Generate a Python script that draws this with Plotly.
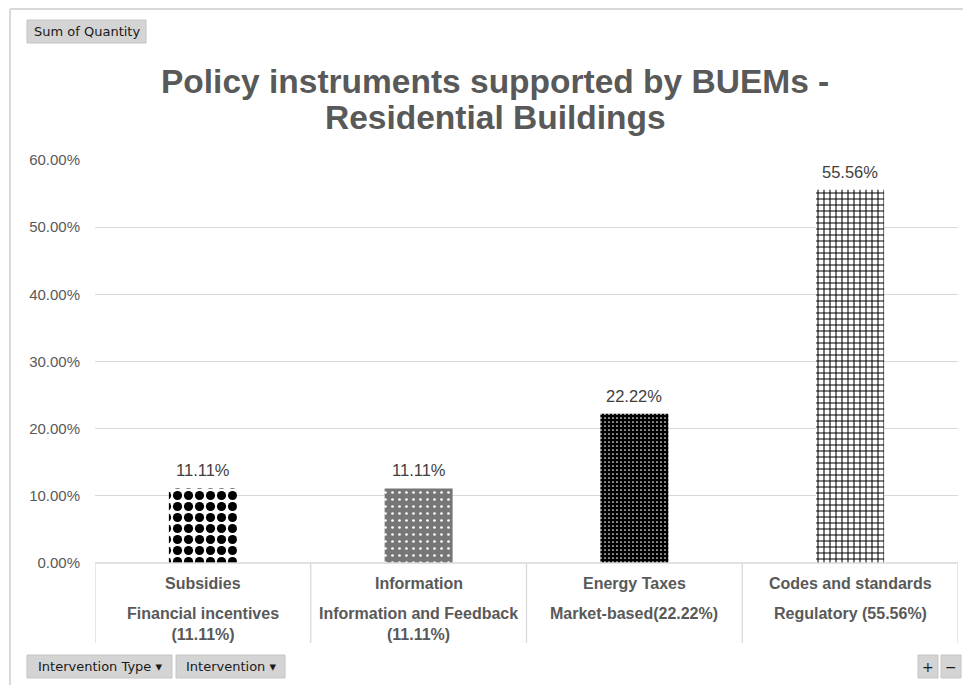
import plotly.graph_objects as go

# Chart data
categories = ["Subsidies", "Information", "Energy Taxes", "Codes and standards"]
sub_labels = ["Financial incentives<br>(11.11%)", "Information and Feedback<br>(11.11%)",
              "Market-based(22.22%)", "Regulatory (55.56%)"]
shares = [0.1111, 0.1111, 0.2222, 0.5556]
y_ticks = [0.0, 0.1, 0.2, 0.3, 0.4, 0.5, 0.6]
title_lines = ["Policy instruments supported by BUEMs -", "Residential Buildings"]

W, H = 963, 685
L, R, T, B = 95, 958, 160, 563   # plot area in pixels


def px_x(x):
    return (x - L) / (R - L)


def px_y(y):
    return (B - y) / (B - T)


TEXT = "#595959"
GRID = "#d9d9d9"
FONT = "Liberation Sans, Arial, sans-serif"
BTN_FONT = "DejaVu Sans, Tahoma, sans-serif"

fig = go.Figure()
fig.add_trace(go.Bar(
    x=categories,
    y=shares,
    width=0.315,
    marker=dict(
        color="white",
        line=dict(width=0),
        pattern=dict(
            shape=[".", ".", ".", "+"],
            fgcolor=["black", "white", "white", "black"],
            bgcolor=["white", "#767676", "black", "white"],
            size=[11, 7, 4, 6],
            solidity=[0.55, 0.12, 0.14, 0.32],
            fillmode="replace",
        ),
    ),
    hoverinfo="skip",
    showlegend=False,
))

shapes = []
annotations = []

# value labels above the bars
for c, v in zip(categories, shares):
    annotations.append(dict(
        x=c, y=v, xref="x", yref="y", text=f"{v * 100:.2f}%",
        showarrow=False, yanchor="bottom", yshift=7,
        font=dict(family=FONT, size=16.5, color="#404040"),
    ))

# category table beneath the axis
table_bottom = px_y(643)
shapes.append(dict(type="line", xref="paper", yref="paper", x0=0, x1=1, y0=0, y1=0,
                   line=dict(color=GRID, width=1.3)))
for i in range(len(categories) + 1):
    shapes.append(dict(type="line", xref="x", yref="paper", x0=i - 0.5, x1=i - 0.5,
                       y0=0, y1=table_bottom, line=dict(color=GRID, width=1.3)))
for c, top, sub in zip(categories, categories, sub_labels):
    annotations.append(dict(
        x=c, xref="x", y=px_y(583), yref="paper", text=f"<b>{top}</b>",
        showarrow=False, yanchor="middle",
        font=dict(family=FONT, size=16, color=TEXT),
    ))
    annotations.append(dict(
        x=c, xref="x", y=px_y(603), yref="paper", text=f"<b>{sub}</b>",
        showarrow=False, yanchor="top",
        font=dict(family=FONT, size=16, color=TEXT),
    ))

# outer frame
shapes.append(dict(type="line", xref="paper", yref="paper", x0=px_x(10), x1=px_x(963),
                   y0=px_y(9), y1=px_y(9), line=dict(color=GRID, width=2)))
shapes.append(dict(type="line", xref="paper", yref="paper", x0=px_x(10), x1=px_x(10),
                   y0=px_y(9), y1=px_y(685), line=dict(color=GRID, width=2)))


# pivot field buttons
def button(x0, x1, y0, y1, label, size=13):
    shapes.append(dict(type="rect", xref="paper", yref="paper",
                       x0=px_x(x0), x1=px_x(x1), y0=px_y(y1), y1=px_y(y0),
                       fillcolor="#d4d4d4", line=dict(color="#c4c4c4", width=1)))
    annotations.append(dict(x=px_x((x0 + x1) / 2), y=px_y((y0 + y1) / 2),
                            xref="paper", yref="paper", text=label, showarrow=False,
                            xanchor="center", yanchor="middle",
                            font=dict(family=BTN_FONT, size=size, color="#1a1a1a")))


button(27, 146, 20, 43, "Sum of Quantity", 13)
button(27, 172, 655, 678, "Intervention Type ▾", 13)
button(176, 285, 655, 678, "Intervention ▾", 13)
button(918, 938, 655, 678, "+", 14)
button(941, 961, 655, 678, "−", 14)

# chart title, one annotation per line
for line, yc in zip(title_lines, [81, 118]):
    annotations.append(dict(
        x=px_x(495), y=px_y(yc), xref="paper", yref="paper",
        text=f"<b>{line}</b>",
        showarrow=False, xanchor="center", yanchor="middle",
        font=dict(family=FONT, size=33.5, color=TEXT),
    ))

fig.update_layout(
    width=W, height=H,
    margin=dict(l=L, r=W - R, t=T, b=H - B, pad=0),
    paper_bgcolor="white", plot_bgcolor="white",
    xaxis=dict(showticklabels=False, showgrid=False, zeroline=False, showline=False,
               range=[-0.5, 3.5], fixedrange=True),
    yaxis=dict(range=[0, 0.6], tickvals=y_ticks, tickformat=".2%",
               showgrid=True, gridcolor=GRID, gridwidth=1.3,
               zeroline=False, showline=False, ticks="",
               ticklabelstandoff=14,
               tickfont=dict(family=FONT, size=15, color=TEXT), fixedrange=True),
    shapes=shapes,
    annotations=annotations,
    bargap=0.6,
)

fig.write_html("out.html")
